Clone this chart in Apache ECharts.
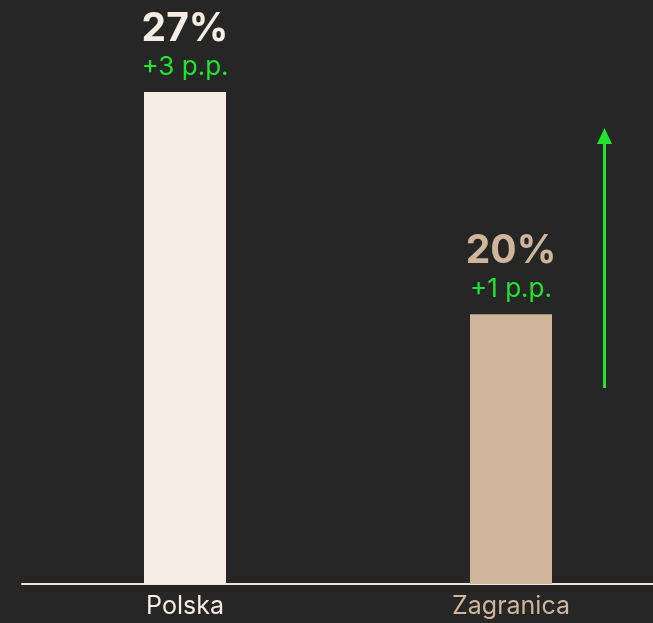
<!DOCTYPE html>
<html><head><meta charset="utf-8">
<script src="https://cdn.jsdelivr.net/npm/echarts@6/dist/echarts.min.js"></script>
<style>html,body{margin:0;padding:0;background:#262626}#c{width:653px;height:623px}</style>
</head><body><div id="c"></div>
<script>
const categories = ['Polska', 'Zagranica'];
const values = [27, 20];
const deltas = ['+3 p.p.', '+1 p.p.'];
const barColors = ['#F5EDE3', '#CFB59A'];

const chart = echarts.init(document.getElementById('c'));
const FONT = 'Inter, "Open Sans", sans-serif';
chart.setOption({
  backgroundColor: '#262626',
  animation: false,
  grid: {left: 22, width: 652, top: 0, bottom: 39, containLabel: false, outerBoundsMode: 'none'},
  xAxis: {
    type: 'category', data: categories,
    axisLine: {show: true, lineStyle: {color: '#EDE3D6', width: 2}},
    axisTick: {show: false},
    axisLabel: {margin: 10, fontSize: 25, fontFamily: FONT,
      color: function (v, i) { return barColors[categories.indexOf(v)]; }}
  },
  yAxis: {type: 'value', min: 11.5, max: 29.9, show: false, splitLine: {show: false}},
  series: [{
    type: 'bar', barWidth: 82,
    data: values.map((v, i) => ({value: v, itemStyle: {color: barColors[i]},
      label: {rich: {v: {color: barColors[i]}}}})),
    label: {
      show: true, position: 'top', distance: 10,
      formatter: p => '{v|' + p.value + '%}\n{d|' + deltas[p.dataIndex] + '}',
      rich: {
        v: {fontSize: 39, fontWeight: 'bold', fontFamily: FONT, lineHeight: 46},
        d: {fontSize: 26, color: '#1FE52F', fontFamily: FONT, lineHeight: 30}
      }
    }
  }],
  graphic: [
    {type: 'line', shape: {x1: 604.5, y1: 388, x2: 604.5, y2: 140}, style: {stroke: '#1FE52F', lineWidth: 3}},
    {type: 'polygon', shape: {points: [[604.5, 128], [597, 144], [612, 144]]}, style: {fill: '#1FE52F'}}
  ]
});
</script></body></html>
